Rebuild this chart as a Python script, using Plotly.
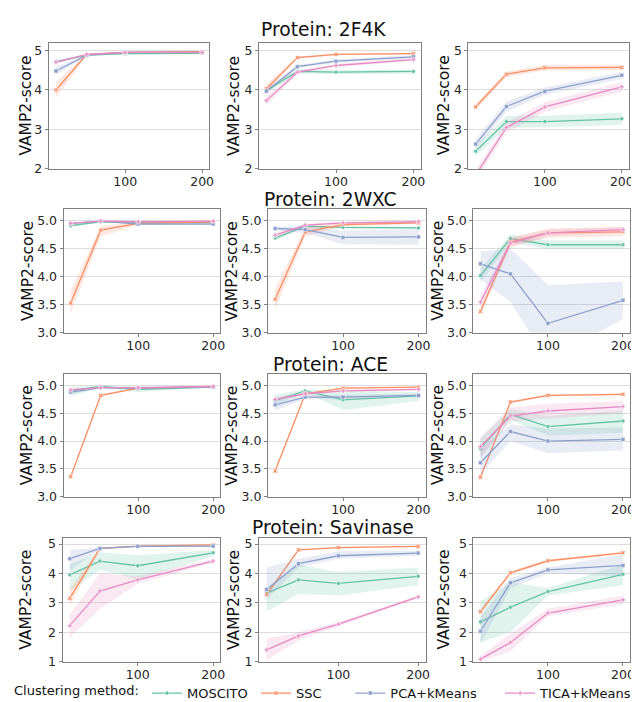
import plotly.graph_objects as go

# ---------------- data ----------------
X_VALUES = [10, 50, 100, 200]
METHODS = ["MOSCITO", "SSC", "PCA+kMeans", "TICA+kMeans"]
PROTEINS = ["2F4K", "2WXC", "ACE", "Savinase"]
Y_RANGES = [[2, 5.2], [3, 5.2], [3, 5.2], [1, 5.2]]
Y_TICKS = [[2, 3, 4, 5], [3.0, 3.5, 4.0, 4.5, 5.0], [3.0, 3.5, 4.0, 4.5, 5.0], [1, 2, 3, 4, 5]]
X_TICKS = [100, 200]

# each panel: method -> (mean, lower, upper)
panel_2F4K_a = {
    "MOSCITO": ([4.72, 4.88, 4.92, 4.93], [4.68, 4.86, 4.90, 4.91], [4.76, 4.90, 4.94, 4.95]),
    "SSC": ([4.00, 4.90, 4.95, 4.97], [3.80, 4.87, 4.93, 4.95], [4.20, 4.93, 4.97, 4.99]),
    "PCA+kMeans": ([4.48, 4.88, 4.95, 4.95], [4.38, 4.86, 4.93, 4.93], [4.58, 4.90, 4.97, 4.97]),
    "TICA+kMeans": ([4.70, 4.90, 4.95, 4.95], [4.66, 4.88, 4.93, 4.93], [4.74, 4.92, 4.97, 4.97]),
}
panel_2F4K_b = {
    "MOSCITO": ([3.98, 4.47, 4.45, 4.47], [3.92, 4.42, 4.40, 4.42], [4.04, 4.52, 4.50, 4.52]),
    "SSC": ([4.03, 4.82, 4.90, 4.92], [3.92, 4.79, 4.88, 4.90], [4.14, 4.85, 4.92, 4.94]),
    "PCA+kMeans": ([3.97, 4.59, 4.73, 4.84], [3.90, 4.55, 4.69, 4.80], [4.04, 4.63, 4.77, 4.88]),
    "TICA+kMeans": ([3.73, 4.45, 4.62, 4.77], [3.61, 4.41, 4.58, 4.73], [3.85, 4.49, 4.66, 4.81]),
}
panel_2F4K_c = {
    "MOSCITO": ([2.45, 3.20, 3.20, 3.27], [2.32, 3.05, 3.05, 3.12], [2.58, 3.35, 3.35, 3.42]),
    "SSC": ([3.57, 4.40, 4.56, 4.57], [3.49, 4.33, 4.49, 4.50], [3.65, 4.47, 4.63, 4.64]),
    "PCA+kMeans": ([2.63, 3.58, 3.97, 4.37], [2.50, 3.45, 3.88, 4.28], [2.76, 3.71, 4.06, 4.46]),
    "TICA+kMeans": ([1.85, 3.05, 3.57, 4.08], [1.72, 2.92, 3.45, 3.96], [1.98, 3.18, 3.69, 4.20]),
}
panel_2WXC_a = {
    "MOSCITO": ([4.91, 4.98, 4.97, 4.97], [4.89, 4.97, 4.96, 4.96], [4.93, 4.99, 4.98, 4.98]),
    "SSC": ([3.53, 4.83, 4.95, 4.98], [3.35, 4.72, 4.92, 4.96], [3.75, 4.90, 4.98, 5.00]),
    "PCA+kMeans": ([4.95, 4.99, 4.94, 4.94], [4.94, 4.98, 4.93, 4.93], [4.96, 5.00, 4.95, 4.95]),
    "TICA+kMeans": ([4.95, 4.99, 4.98, 4.99], [4.94, 4.98, 4.97, 4.98], [4.96, 5.00, 4.99, 5.00]),
}
panel_2WXC_b = {
    "MOSCITO": ([4.69, 4.90, 4.88, 4.87], [4.64, 4.88, 4.86, 4.85], [4.74, 4.92, 4.90, 4.89]),
    "SSC": ([3.60, 4.80, 4.93, 4.96], [3.42, 4.72, 4.90, 4.94], [3.78, 4.88, 4.96, 4.98]),
    "PCA+kMeans": ([4.86, 4.84, 4.70, 4.71], [4.83, 4.78, 4.58, 4.57], [4.89, 4.90, 4.82, 4.85]),
    "TICA+kMeans": ([4.74, 4.92, 4.96, 4.98], [4.70, 4.90, 4.94, 4.97], [4.78, 4.94, 4.98, 4.99]),
}
panel_2WXC_c = {
    "MOSCITO": ([4.02, 4.68, 4.57, 4.57], [3.90, 4.61, 4.50, 4.50], [4.15, 4.75, 4.65, 4.65]),
    "SSC": ([3.38, 4.62, 4.78, 4.80], [3.30, 4.54, 4.70, 4.72], [3.46, 4.70, 4.86, 4.88]),
    "PCA+kMeans": ([4.23, 4.05, 3.17, 3.58], [3.95, 3.55, 2.50, 3.25], [4.45, 4.50, 3.85, 3.92]),
    "TICA+kMeans": ([3.55, 4.60, 4.78, 4.84], [3.45, 4.52, 4.72, 4.79], [3.65, 4.68, 4.84, 4.89]),
}
panel_ACE_a = {
    "MOSCITO": ([4.90, 4.98, 4.93, 4.97], [4.80, 4.96, 4.88, 4.96], [4.97, 5.00, 4.98, 4.98]),
    "SSC": ([3.36, 4.82, 4.95, 4.98], [3.33, 4.80, 4.94, 4.97], [3.39, 4.84, 4.96, 4.99]),
    "PCA+kMeans": ([4.88, 4.96, 4.95, 4.97], [4.84, 4.95, 4.94, 4.96], [4.92, 4.97, 4.96, 4.98]),
    "TICA+kMeans": ([4.92, 4.96, 4.96, 4.98], [4.90, 4.95, 4.95, 4.97], [4.94, 4.97, 4.97, 4.99]),
}
panel_ACE_b = {
    "MOSCITO": ([4.73, 4.90, 4.74, 4.81], [4.65, 4.87, 4.56, 4.72], [4.83, 4.93, 4.90, 4.88]),
    "SSC": ([3.46, 4.85, 4.95, 4.97], [3.43, 4.83, 4.94, 4.96], [3.49, 4.87, 4.96, 4.98]),
    "PCA+kMeans": ([4.65, 4.79, 4.79, 4.82], [4.55, 4.75, 4.75, 4.79], [4.75, 4.83, 4.83, 4.85]),
    "TICA+kMeans": ([4.75, 4.85, 4.90, 4.93], [4.71, 4.83, 4.88, 4.91], [4.79, 4.87, 4.92, 4.95]),
}
panel_ACE_c = {
    "MOSCITO": ([3.86, 4.48, 4.26, 4.36], [3.70, 4.38, 4.10, 4.15], [4.05, 4.58, 4.45, 4.55]),
    "SSC": ([3.35, 4.70, 4.82, 4.84], [3.32, 4.68, 4.80, 4.82], [3.38, 4.72, 4.84, 4.86]),
    "PCA+kMeans": ([3.61, 4.17, 4.00, 4.03], [3.40, 4.00, 3.78, 3.83], [3.85, 4.30, 4.22, 4.25]),
    "TICA+kMeans": ([3.90, 4.45, 4.54, 4.62], [3.70, 4.35, 4.40, 4.50], [4.07, 4.60, 4.67, 4.72]),
}
panel_Savinase_a = {
    "MOSCITO": ([3.95, 4.42, 4.26, 4.70], [3.40, 4.12, 3.80, 4.58], [4.30, 4.72, 4.62, 4.80]),
    "SSC": ([3.15, 4.85, 4.93, 4.97], [2.90, 4.82, 4.91, 4.96], [3.45, 4.88, 4.95, 4.98]),
    "PCA+kMeans": ([4.50, 4.85, 4.92, 4.93], [4.10, 4.82, 4.90, 4.91], [4.80, 4.88, 4.94, 4.95]),
    "TICA+kMeans": ([2.22, 3.40, 3.78, 4.42], [1.80, 2.80, 3.65, 4.35], [2.60, 4.00, 3.90, 4.50]),
}
panel_Savinase_b = {
    "MOSCITO": ([3.33, 3.78, 3.66, 3.90], [2.70, 3.30, 3.25, 3.60], [3.50, 4.30, 4.05, 4.20]),
    "SSC": ([3.28, 4.80, 4.88, 4.92], [3.20, 4.78, 4.86, 4.90], [3.36, 4.82, 4.90, 4.94]),
    "PCA+kMeans": ([3.45, 4.33, 4.60, 4.69], [3.10, 4.20, 4.50, 4.60], [4.20, 4.50, 4.75, 4.77]),
    "TICA+kMeans": ([1.40, 1.87, 2.27, 3.20], [1.05, 1.72, 2.20, 3.15], [1.78, 2.00, 2.34, 3.25]),
}
panel_Savinase_c = {
    "MOSCITO": ([2.35, 2.85, 3.38, 3.97], [1.65, 2.00, 3.25, 3.60], [3.05, 3.70, 3.50, 4.30]),
    "SSC": ([2.70, 4.02, 4.43, 4.70], [2.62, 3.97, 4.39, 4.66], [2.78, 4.07, 4.47, 4.74]),
    "PCA+kMeans": ([2.03, 3.68, 4.12, 4.27], [1.60, 3.50, 4.00, 3.90], [2.50, 3.85, 4.20, 4.65]),
    "TICA+kMeans": ([1.08, 1.65, 2.65, 3.10], [1.00, 1.35, 2.55, 2.95], [1.20, 1.95, 2.80, 3.25]),
}
PANELS = [
    [panel_2F4K_a, panel_2F4K_b, panel_2F4K_c],
    [panel_2WXC_a, panel_2WXC_b, panel_2WXC_c],
    [panel_ACE_a, panel_ACE_b, panel_ACE_c],
    [panel_Savinase_a, panel_Savinase_b, panel_Savinase_c],
]

# ---------------- styles ----------------
W, H = 639, 702
COLORS = {"MOSCITO": "102,194,165", "SSC": "252,141,98",
          "PCA+kMeans": "141,160,203", "TICA+kMeans": "231,138,195"}
SYMBOLS = {"MOSCITO": "circle", "SSC": "x", "PCA+kMeans": "square", "TICA+kMeans": "cross"}
LEGEND_IDS = {"MOSCITO": "legend", "SSC": "legend2", "PCA+kMeans": "legend3", "TICA+kMeans": "legend4"}
LEGEND_X = {"legend": 4, "legend2": 250, "legend3": 345, "legend4": 496}
FONT = "DejaVu Sans"

# pixel boxes of the axes: (left, right) per row/col, (top, bottom) per row
X_PIX = [
    [(41, 203), (253, 416), (464, 626)],
    [(56, 214), (262, 421), (469, 627)],
    [(56, 214), (262, 421), (469, 627)],
    [(55, 214), (253, 421), (469, 627)],
]
Y_PIX = [(33, 161), (202, 327), (369, 493), (535, 660)]
YTITLE_X = [[18, 228, 439], [20, 226, 434], [20, 226, 434], [18, 228, 439]]
TITLE_Y = [20, 192, 359, 524]
TITLE_X = [318, 325, 325, 328]

fig = go.Figure()
layout = dict(
    width=W, height=H, margin=dict(l=0, r=0, t=0, b=0),
    paper_bgcolor="white", plot_bgcolor="white",
    font=dict(family=FONT, color="#262626"),
    showlegend=True,
)
annotations = []

idx = 0
for r in range(4):
    for c in range(3):
        idx += 1
        xa = "x" if idx == 1 else f"x{idx}"
        ya = "y" if idx == 1 else f"y{idx}"
        panel = PANELS[r][c]
        for m in METHODS:
            mean, lo, hi = panel[m]
            col = COLORS[m]
            fig.add_trace(go.Scatter(x=X_VALUES, y=lo, xaxis=xa, yaxis=ya, mode="lines",
                                     line=dict(width=0, color=f"rgba({col},0)"),
                                     showlegend=False, hoverinfo="skip"))
            fig.add_trace(go.Scatter(x=X_VALUES, y=hi, xaxis=xa, yaxis=ya, mode="lines",
                                     line=dict(width=0, color=f"rgba({col},0)"),
                                     fill="tonexty", fillcolor=f"rgba({col},0.2)",
                                     showlegend=False, hoverinfo="skip"))
            fig.add_trace(go.Scatter(x=X_VALUES, y=mean, xaxis=xa, yaxis=ya, mode="lines+markers",
                                     name=m, legendgroup=m, showlegend=(idx == 1),
                                     legend=LEGEND_IDS[m],
                                     line=dict(width=1.3, color=f"rgb({col})"),
                                     marker=dict(symbol=SYMBOLS[m], size=4, color=f"rgb({col})",
                                                 line=dict(width=0.5, color="white"))))
        x0, x1 = X_PIX[r][c]
        y0, y1 = Y_PIX[r]
        axis_common = dict(showline=True, linecolor="#808080", linewidth=1, mirror=True,
                           ticks="outside", ticklen=3, tickcolor="#808080",
                           tickfont=dict(size=12.5, family=FONT, color="#262626"))
        layout["xaxis" if idx == 1 else f"xaxis{idx}"] = dict(
            domain=[x0 / W, x1 / W], anchor=ya, range=[0.5, 209.5],
            tickvals=X_TICKS, showgrid=False, zeroline=False, ticklabelstandoff=-2,
            **axis_common)
        layout["yaxis" if idx == 1 else f"yaxis{idx}"] = dict(
            domain=[1 - y1 / H, 1 - y0 / H], anchor=xa, range=Y_RANGES[r],
            tickvals=Y_TICKS[r], tickformat=(".1f" if r in (1, 2) else "d"),
            showgrid=True, gridcolor="#dddddd", gridwidth=1, zeroline=False, **axis_common)
        annotations.append(dict(text="VAMP2-score", xref="paper", yref="paper",
                                x=YTITLE_X[r][c] / W, y=1 - (y0 + y1) / 2 / H,
                                textangle=-90, showarrow=False, xanchor="center", yanchor="middle",
                                font=dict(size=15.5, family=FONT, color="#111111")))
    annotations.append(dict(text=f"Protein: {PROTEINS[r]}", xref="paper", yref="paper",
                            x=TITLE_X[r] / W, y=1 - TITLE_Y[r] / H, showarrow=False,
                            xanchor="center", yanchor="middle",
                            font=dict(size=18.7, family=FONT, color="#111111")))

layout["annotations"] = annotations
for lid, lx in LEGEND_X.items():
    leg = dict(orientation="h", x=lx / W, y=1 - 692 / H, xanchor="left", yanchor="middle",
               font=dict(size=13, family=FONT, color="#111111"),
               bgcolor="rgba(0,0,0,0)", itemwidth=30, tracegroupgap=0)
    if lid == "legend":
        leg["title"] = dict(text="Clustering method:", side="left",
                            font=dict(size=13, family=FONT, color="#111111"))
    layout[lid] = leg
fig.update_layout(**layout)
fig.write_html("out.html")
